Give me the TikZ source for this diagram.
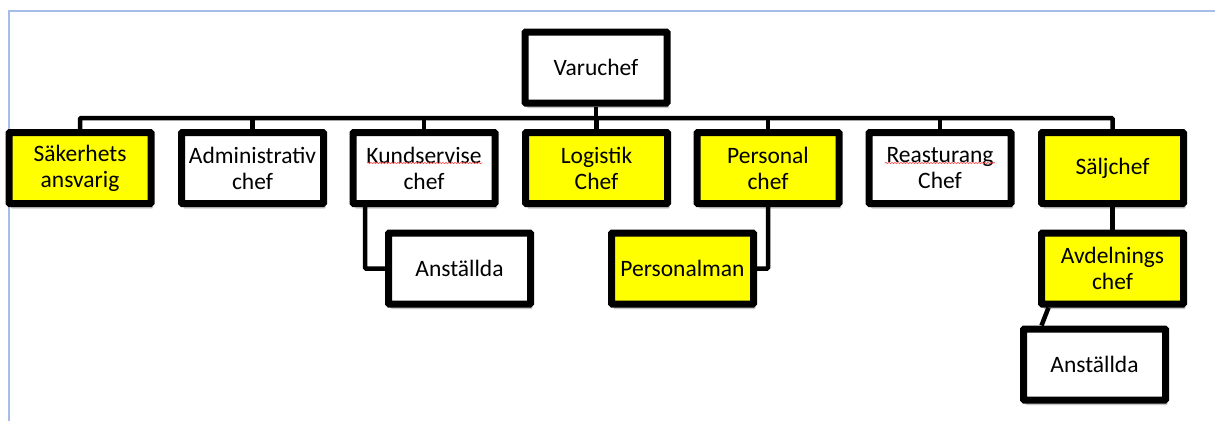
\documentclass[tikz,border=0pt]{standalone}
\usepackage{fontspec}
\setmainfont{Carlito}
\usetikzlibrary{shadows,calc,decorations.pathmorphing}
\definecolor{frameblue}{HTML}{A4BDE9}
\definecolor{boxyellow}{HTML}{FFFF00}
\begin{document}
\begin{tikzpicture}[x=1pt,y=-1pt,
  box/.style={draw=black, line width=7pt, rounded corners=0.8pt,
    minimum width=142pt, minimum height=71pt, inner sep=0pt, align=center,
    font=\fontsize{23.5}{26}\selectfont, fill=white,
    drop shadow={shadow xshift=2pt, shadow yshift=-5pt, fill=black, opacity=0.22}},
  ybox/.style={box, fill=boxyellow},
  conn/.style={draw=black, line width=4.5pt, rounded corners=1pt},
  spell/.style={draw=red!75, line width=0.6pt, decorate,
    decoration={snake, amplitude=0.6pt, segment length=3pt}}]
\useasboundingbox (0,0) rectangle (1215,421);
\fill[white] (0,0) rectangle (1215,421);
\draw[frameblue, line width=1.6pt] (9,421) -- (9,11) -- (1215,11);

\coordinate (bar) at (0,118);

% connectors (drawn first, boxes on top)
\path (596,67.5) coordinate (vcc);

\node[box]  (vc)   at (596,67.5) {Varuchef};
\node[ybox] (sak)  at (80,168)    {Säkerhets\\ansvarig};
\node[box]  (adm)  at (252.5,168) {Administrativ\\chef};
\node[box]  (kund) at (424,168)   {Kundservise\\chef};
\node[ybox] (log)  at (596.5,168) {Logistik\\Chef};
\node[ybox] (pers) at (768,168)   {Personal\\chef};
\node[box]  (rest) at (940,168)   {Reasturang\\Chef};
\node[ybox] (salj) at (1112.5,168) {Säljchef};
\node[box]  (ans1) at (459.5,268.5) {Anställda};
\node[ybox] (pm)   at (682.5,268.5) {Personalman};
\node[ybox] (avd)  at (1112.5,268.5) {Avdelnings\\chef};
\node[box]  (ans2) at (1094.5,364.5) {Anställda};

\draw[conn] (sak.north) -- (sak.north |- bar) -- (salj.north |- bar) -- (salj.north);
\foreach \n in {adm,kund,log,pers,rest}
  \draw[conn] (\n.north) -- (\n.north |- bar);
\draw[conn] (vc.south) -- (vc.south |- bar);
\draw[conn] ($(kund.south west)+(15.5,0)$) |- (ans1.west);
\draw[conn] (pers.south) |- (pm.east);
\draw[conn] (salj.south) -- (avd.north);
\draw[conn] ($(avd.south west)+(10.5,0)$) -- ($(ans2.north west)+(21.5,0)$);

\draw[spell] ($(kund.center)+(-57,-5)$) -- ($(kund.center)+(58,-5)$);
\draw[spell] ($(rest.center)+(-55,-5)$) -- ($(rest.center)+(55,-5)$);
\end{tikzpicture}
\end{document}
